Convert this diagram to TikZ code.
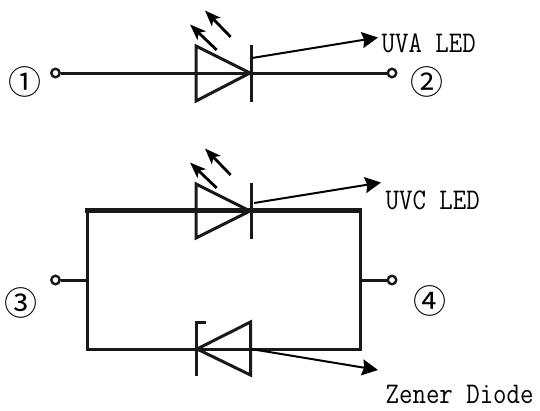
\documentclass[tikz,border=0pt]{standalone}
\usepackage{fontspec}
\newfontfamily\lblfont[FakeStretch=0.87]{Latin Modern Mono}
\newfontfamily\circfont{Noto Sans CJK SC}
\usetikzlibrary{arrows.meta}
\tikzset{
 wire/.style={line width=3pt,black!90},
 heavy/.style={line width=4.5pt,black!90},
 term/.style={circle,draw=black!90,line width=2.4pt,fill=white,inner sep=0pt,minimum size=8.5pt},
 lamp/.style={line width=2.8pt,-{Stealth[length=16pt,width=12pt,inset=4pt]}},
 lead/.style={line width=2pt,-{Stealth[length=16pt,width=16pt,inset=2pt]}},
 lbl/.style={inner sep=0pt,anchor=base west,font=\fontsize{30pt}{32pt}\selectfont\lblfont},
 num/.style={inner sep=0pt,font=\fontsize{33pt}{34pt}\selectfont\circfont}
}
\begin{document}
\begin{tikzpicture}[x=1pt,y=-1pt]
\useasboundingbox (0,0) rectangle (540,410);
% top LED
\node[term] (t1) at (55.5,73) {};
\node[term] (t2) at (392,73) {};
\coordinate (aA) at (196,73);
\coordinate (cA) at (251,73);
\draw[wire] (t1) -- (aA) -- (cA) -- (t2);
\draw[wire,line join=miter] (196,46) -- (250,73) -- (196,101) -- cycle;
\draw[wire] (251,45) -- (251,102);
\coordinate (l1s) at (216.7,50); \coordinate (l1e) at (190,24.5);
\coordinate (l2s) at (230.7,37); \coordinate (l2e) at (205,10.5);
\draw[lamp] (l1s) -- (l1e);
\draw[lamp] (l2s) -- (l2e);
\coordinate (la) at (252,58); \coordinate (lae) at (378,37.5);
\draw[lead] (la) -- (lae);
\node[lbl] (uva) at (381.5,52) {UVA LED};
\node[num] (n1) at (25,81.5) {①};
\node[num] (n2) at (427,81.5) {②};
% bottom circuit
\node[term] (t3) at (55.5,280) {};
\node[term] (t4) at (392,280) {};
\coordinate (jl) at (87,280);
\coordinate (jr) at (360,280);
\coordinate (tl) at (87,210.5);
\coordinate (tr) at (360,210.5);
\coordinate (bl) at (87,349);
\coordinate (br) at (360,349);
\draw[wire] (t3) -- (jl);
\draw[wire] (t4) -- (jr);
\draw[wire,line join=miter] (tl) -- (bl) -- (br) -- (tr);
\draw[heavy,line cap=rect] (tl) -- (tr);
\draw[wire,line join=miter] (196,184) -- (250,211) -- (196,238) -- cycle;
\draw[wire] (251,183) -- (251,239);
\coordinate (l3s) at (216.7,188); \coordinate (l3e) at (190,162.5);
\coordinate (l4s) at (230.7,175); \coordinate (l4e) at (205,148.5);
\draw[lamp] (l3s) -- (l3e);
\draw[lamp] (l4s) -- (l4e);
\coordinate (lc) at (254,203); \coordinate (lce) at (381,182.5);
\draw[lead] (lc) -- (lce);
\node[lbl] (uvc) at (385.5,209) {UVC LED};
% zener
\draw[wire,line join=miter] (250.5,322) -- (197,349) -- (250.5,375) -- cycle;
\draw[wire] (205.5,322) -- (196.5,322) -- (196.5,376);
\coordinate (lz) at (251,349); \coordinate (lze) at (378,370);
\draw[lead] (lz) -- (lze);
\node[lbl] (zd) at (385.5,403.5) {Zener Diode};
\node[num] (n3) at (21,302.5) {③};
\node[num] (n4) at (429.5,301) {④};
\end{tikzpicture}
\end{document}
